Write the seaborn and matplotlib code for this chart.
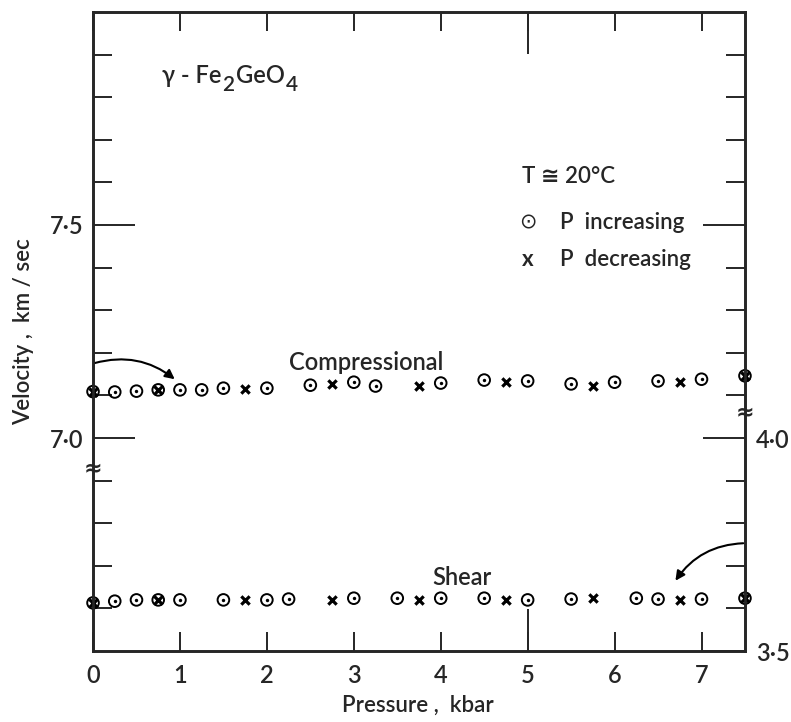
import matplotlib
matplotlib.use("Agg")
import matplotlib.pyplot as plt
import seaborn as sns

# pressure (kbar) and velocity (km/sec)
comp_inc_p = [0, 0.25, 0.5, 0.75, 1.0, 1.25, 1.5, 2.0, 2.5, 3.0, 3.25, 4.0, 4.5, 5.0, 5.5, 6.0, 6.5, 7.0, 7.5]
comp_inc_v = [7.109, 7.108, 7.110, 7.113, 7.113, 7.113, 7.117, 7.117, 7.124, 7.131, 7.122,
              7.129, 7.136, 7.134, 7.127, 7.131, 7.134, 7.138, 7.146]
comp_dec_p = [0, 0.75, 1.75, 2.75, 3.75, 4.75, 5.75, 6.75, 7.5]
comp_dec_v = [7.109, 7.113, 7.115, 7.127, 7.122, 7.131, 7.122, 7.131, 7.146]

shear_inc_p = [0, 0.25, 0.5, 0.75, 1.0, 1.5, 2.0, 2.25, 3.0, 3.5, 4.0, 4.5, 5.0, 5.5, 6.25, 6.5, 7.0, 7.5]
shear_inc_v = [3.613, 3.617, 3.620, 3.620, 3.620, 3.620, 3.620, 3.622, 3.624, 3.624,
               3.624, 3.624, 3.620, 3.622, 3.624, 3.622, 3.622, 3.624]
shear_dec_p = [0, 0.75, 1.75, 2.75, 3.75, 4.75, 5.75, 6.75, 7.5]
shear_dec_v = [3.613, 3.620, 3.620, 3.620, 3.620, 3.620, 3.624, 3.620, 3.624]

# the compressional scale (left) is shifted down by 3 km/sec onto the shear scale (right)
COMP_OFFSET = 3.0

x_ticks = [0, 1, 2, 3, 4, 5, 6, 7]
left_ticks = [4.0, 4.5]
left_labels = ["7·0", "7·5"]
right_ticks = [3.5, 4.0, 4.5]
right_labels = ["3·5", "4·0", ""]
minor_ticks = [3.6, 3.7, 3.8, 3.9, 4.1, 4.2, 4.3, 4.4, 4.6, 4.7, 4.8, 4.9]

sns.set_style("ticks")
plt.rcParams['font.family'] = ['Lato', 'DejaVu Sans']
plt.rcParams['font.weight'] = 'semibold'
plt.rcParams['axes.labelweight'] = 'semibold'

fig = plt.figure(figsize=(7.91, 7.22), dpi=100)
ax = fig.add_axes([0.1176, 0.0983, 0.8242, 0.8851])


def circle_dot(px, py):
    sns.scatterplot(x=px, y=py, marker='o', s=70, facecolor='none', edgecolor='black',
                    linewidth=1.4, clip_on=False, zorder=3, ax=ax)
    sns.scatterplot(x=px, y=py, marker='o', s=6, color='black', linewidth=0,
                    clip_on=False, zorder=3, ax=ax)


def cross(px, py):
    sns.scatterplot(x=px, y=py, marker='x', s=36, color='black', linewidth=2.3,
                    clip_on=False, zorder=3, ax=ax)


circle_dot(comp_inc_p, [v - COMP_OFFSET for v in comp_inc_v])
cross(comp_dec_p, [v - COMP_OFFSET for v in comp_dec_v])
circle_dot(shear_inc_p, shear_inc_v)
cross(shear_dec_p, shear_dec_v)

ax.set_xlim(0, 7.5)
ax.set_ylim(3.5, 5.0)
for s in ax.spines.values():
    s.set_linewidth(1.9)
    s.set_visible(True)

# x ticks, the one at 5 is long
ax.set_xticks(x_ticks)
ax.set_xticklabels([str(t) for t in x_ticks])
ax.xaxis.remove_overlapping_locs = False
ax.set_xticks([5], minor=True)
ax.tick_params(axis='x', which='major', direction='in', length=14, width=1.4,
               top=True, labelsize=17, pad=9)
ax.tick_params(axis='x', which='minor', direction='in', length=30, width=1.4, top=True)

ax.set_yticks(left_ticks)
ax.set_yticklabels(left_labels)
ax.set_yticks(minor_ticks, minor=True)
ax.tick_params(axis='y', which='major', direction='in', length=30, width=1.4,
               labelsize=17, pad=7, right=False)
ax.tick_params(axis='y', which='minor', direction='in', length=14, width=1.4, right=False)

ax2 = ax.twinx()
ax2.set_ylim(3.5, 5.0)
ax2.set_yticks(right_ticks)
ax2.set_yticklabels(right_labels)
ax2.set_yticks(minor_ticks, minor=True)
ax2.tick_params(axis='y', which='major', direction='in', length=30, width=1.4,
                labelsize=17, pad=8, left=False)
ax2.tick_params(axis='y', which='minor', direction='in', length=14, width=1.4, left=False)
for s in ax2.spines.values():
    s.set_linewidth(1.9)

ax.set_xlabel("Pressure ,  kbar", fontsize=16, fontweight='semibold')
ax.xaxis.set_label_coords(0.498, -0.068)
ax.set_ylabel("Velocity ,  km / sec", fontsize=16, fontweight='semibold')
ax.yaxis.set_label_coords(-0.09, 0.50)

# axis breaks
ax.text(0, 3.93, "≈", fontsize=16, fontweight='bold', ha='center', va='center',
        family='DejaVu Sans', clip_on=False, zorder=4)
ax.text(7.5, 4.06, "≈", fontsize=16, fontweight='bold', ha='center', va='center',
        family='DejaVu Sans', clip_on=False, zorder=4)

# formula label, subscripts set by hand so they stay large and low
TITLE_Y = 4.833
t1 = ax.text(0.79, TITLE_Y, "γ - Fe", fontsize=17, ha='left', va='baseline')
t2 = ax.annotate("2", xy=(1, TITLE_Y), xycoords=(t1, 'data'), xytext=(1, -6),
                 textcoords='offset points', fontsize=15, va='baseline')
t3 = ax.annotate("GeO", xy=(1, TITLE_Y), xycoords=(t2, 'data'), xytext=(1, 0),
                 textcoords='offset points', fontsize=17, va='baseline')
ax.annotate("4", xy=(1, TITLE_Y), xycoords=(t3, 'data'), xytext=(1, -6),
            textcoords='offset points', fontsize=15, va='baseline')

ax.text(4.94, 4.613, "T ≅ 20°C", fontsize=16, ha='left', va='center')
ax.text(5.0, 4.507, "⊙", fontsize=15, fontweight='normal', ha='center', va='center',
        family='DejaVu Sans')
ax.text(5.37, 4.507, "P  increasing", fontsize=16, ha='left', va='center')
ax.text(5.0, 4.418, "x", fontsize=16, fontweight='bold', ha='center', va='center')
ax.text(5.37, 4.418, "P  decreasing", fontsize=16, ha='left', va='center')

ax.text(3.14, 4.160, "Compressional", fontsize=17, ha='center', va='baseline')
ax.text(4.24, 3.655, "Shear", fontsize=17, ha='center', va='baseline')

# arrows tying each series to its scale
ax.annotate("", xy=(0.94, 4.138), xytext=(0.02, 4.176),
            arrowprops=dict(arrowstyle='-|>', connectionstyle='arc3,rad=-0.25',
                            color='black', lw=1.5, mutation_scale=14, shrinkA=0, shrinkB=0))
ax.annotate("", xy=(6.7, 3.665), xytext=(7.48, 3.753),
            arrowprops=dict(arrowstyle='-|>', connectionstyle='arc3,rad=0.25',
                            color='black', lw=1.5, mutation_scale=14, shrinkA=0, shrinkB=0))

fig.savefig("out.png", dpi=100)
